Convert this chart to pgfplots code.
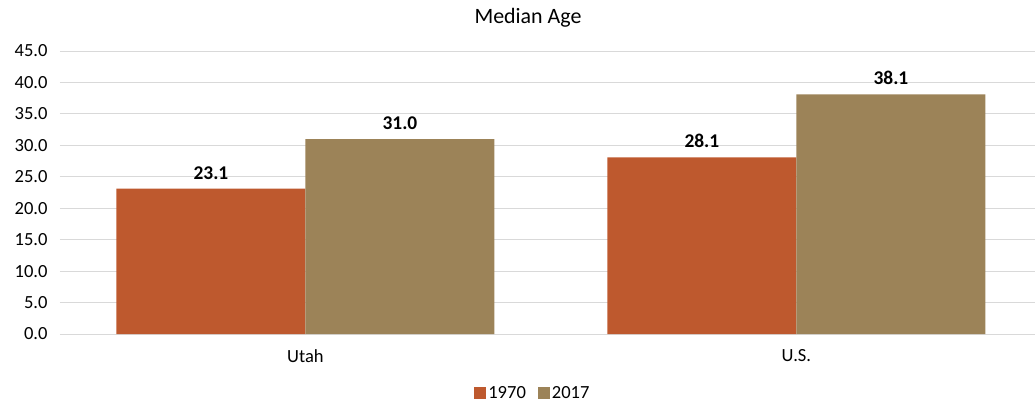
\documentclass[border=0pt]{standalone}
\usepackage{pgfplots}
\pgfplotsset{compat=1.18}
\usepackage{fontspec}
\setmainfont{Carlito}
\definecolor{cA}{RGB}{190,89,46}
\definecolor{cB}{RGB}{156,131,88}
\definecolor{gridc}{RGB}{217,217,217}
\begin{document}
\begin{tikzpicture}
\useasboundingbox (-60bp,-70bp) rectangle (975bp,334bp);
\begin{axis}[
  at={(0,0)}, anchor=south west,
  scale only axis,
  width=975bp, height=283bp,
  xmin=-0.5, xmax=1.486,
  ymin=0, ymax=45,
  ytick={0,5,...,45},
  xtick={0,1}, xticklabels={Utah,U.S.},
  ymajorgrids, grid style={gridc, line width=0.8pt},
  axis line style={draw=none},
  major tick length=0pt,
  yticklabel style={/pgf/number format/.cd, fixed, fixed zerofill, precision=1, /tikz/.cd, font=\fontsize{18.6}{21}\selectfont, xshift=-9bp},
  /pgf/number format/assume math mode=true,
  xticklabel style={font=\fontsize{18.6}{21}\selectfont, yshift=-12bp},
  ybar, bar width=0.385,
  nodes near coords,
  nodes near coords style={font=\fontsize{19.5}{22}\selectfont\bfseries, /pgf/number format/.cd, fixed, fixed zerofill, precision=1, /tikz/.cd, yshift=6bp},
  title={Median Age},
  title style={font=\fontsize{22}{25}\selectfont, at={(0.48,1)}, anchor=center, yshift=27bp},
  legend style={at={(0.485,-0.21)}, anchor=center, draw=none, legend columns=2, font=\fontsize{18.6}{21}\selectfont, /tikz/every even column/.append style={column sep=10bp}},
  legend image code/.code={\draw[#1, draw=none] (0bp,-6bp) rectangle (12bp,6bp);},
  clip=false,
]
\draw[gridc, line width=0.8pt] (axis cs:-0.5,0) -- (axis cs:1.486,0);
\addplot[fill=cA, draw=none, bar shift=-0.1925] coordinates {(0,23.1) (1,28.1)};
\addplot[fill=cB, draw=none, bar shift=0.1925] coordinates {(0,31.0) (1,38.1)};
\legend{1970,2017}
\end{axis}
\end{tikzpicture}
\end{document}
